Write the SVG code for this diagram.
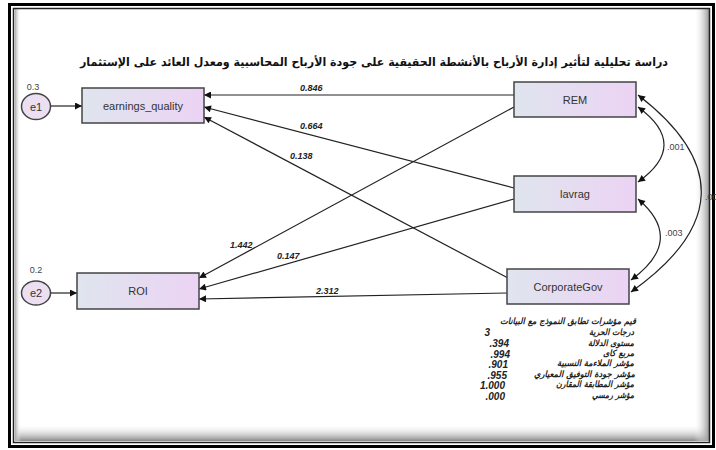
<svg xmlns="http://www.w3.org/2000/svg" width="716" height="450" viewBox="0 0 716 450">
<defs>
<linearGradient id="boxg" x1="0" y1="0" x2="1" y2="0">
<stop offset="0" stop-color="#dfe5ee"/>
<stop offset="1" stop-color="#ecd3f4"/>
</linearGradient>
<linearGradient id="shB" x1="0" y1="0" x2="0" y2="1">
<stop offset="0" stop-color="#fff" stop-opacity="0"/>
<stop offset="1" stop-color="#888"/>
</linearGradient>
<linearGradient id="shR" x1="0" y1="0" x2="1" y2="0">
<stop offset="0" stop-color="#fff" stop-opacity="0"/>
<stop offset="1" stop-color="#999"/>
</linearGradient>
<linearGradient id="shL" x1="1" y1="0" x2="0" y2="0">
<stop offset="0" stop-color="#fff" stop-opacity="0"/>
<stop offset="1" stop-color="#aaa"/>
</linearGradient>
<marker id="arr" viewBox="0 0 10 10" refX="10" refY="5" markerWidth="12" markerHeight="7" markerUnits="userSpaceOnUse" orient="auto-start-reverse">
<path d="M0,0 L10,5 L0,10 z" fill="#111"/>
</marker>
</defs>
<style>
.box{fill:url(#boxg);stroke:#444;stroke-width:1.5}
.err{fill:#ebdff1;stroke:#444;stroke-width:1.5}
.lbl{font-family:"Liberation Sans",Arial,sans-serif;font-size:11px;fill:#333;text-anchor:middle}
.var{font-family:"Liberation Sans",Arial,sans-serif;font-size:9px;fill:#444;text-anchor:middle}
.edge{fill:none;stroke:#222;stroke-width:1.2;marker-end:url(#arr)}
.cov{fill:none;stroke:#222;stroke-width:1.2;marker-end:url(#arr);marker-start:url(#arr)}
.coef{font-family:"Liberation Sans",Arial,sans-serif;font-size:9px;font-style:italic;font-weight:bold;fill:#222}
.covl{font-family:"Liberation Sans",Arial,sans-serif;font-size:9px;fill:#444}
.ar{font-family:"DejaVu Sans",sans-serif;font-size:8.5px;font-weight:bold;font-style:italic;fill:#222;text-anchor:end}
.num{font-family:"Liberation Sans",Arial,sans-serif;font-size:10px;font-weight:bold;font-style:italic;fill:#222;text-anchor:end}
</style>
<rect width="716" height="450" fill="#fff"/>
<g id="frame">
<rect x="15" y="424" width="694" height="17" fill="url(#shB)"/>
<rect x="694" y="9" width="15" height="432" fill="url(#shR)"/>
<rect x="15" y="9" width="6" height="432" fill="url(#shL)"/>
<rect x="9.5" y="4.5" width="704" height="442" fill="none" stroke="#000" stroke-width="3"/>
<rect x="13.5" y="8.5" width="696" height="434" fill="none" stroke="#222" stroke-width="1.5"/>
</g>
<text id="title" x="374" y="66" font-family="DejaVu Sans, sans-serif" font-size="11.5" font-weight="bold" fill="#111" text-anchor="middle" textLength="588" lengthAdjust="spacingAndGlyphs">دراسة تحليلية لتأثير إدارة الأرباح بالأنشطة الحقيقية على جودة الأرباح المحاسبية ومعدل العائد على الإستثمار</text>
<g id="connectors">
<path class="edge" d="M51,106 L82,106"/>
<path class="edge" d="M51,293 L77,293"/>
<path class="edge" d="M514,95 L204,95"/>
<path class="edge" d="M514,188 L204,107"/>
<path class="edge" d="M508,278 L204,117"/>
<path class="edge" d="M514,107 L199,278"/>
<path class="edge" d="M514,199 L199,289"/>
<path class="edge" d="M507,293 L199,299"/>
<path class="cov" d="M638,107 Q690,145 638,182"/>
<path class="cov" d="M638,199 Q686,240 631,280"/>
<path class="cov" d="M638,95 Q768,195 631,292"/>
<text class="coef" x="300" y="91">0.846</text>
<text class="coef" x="300" y="129">0.664</text>
<text class="coef" x="290" y="159">0.138</text>
<text class="coef" x="230" y="248">1.442</text>
<text class="coef" x="277" y="259">0.147</text>
<text class="coef" x="316" y="294">2.312</text>
<text class="covl" x="667" y="150">.001</text>
<text class="covl" x="665" y="236">.003</text>
</g>
<g id="e1"><ellipse class="err" cx="36" cy="106.5" rx="14.5" ry="13"/><text class="lbl" x="36" y="110.5">e1</text><text class="var" x="33" y="90">0.3</text></g>
<g id="e2"><ellipse class="err" cx="36" cy="293" rx="14.5" ry="12"/><text class="lbl" x="36" y="297">e2</text><text class="var" x="36" y="273">0.2</text></g>
<g id="earnings_quality"><rect class="box" x="82" y="88" width="122" height="35"/><text class="lbl" x="143" y="109.5">earnings_quality</text></g>
<g id="ROI"><rect class="box" x="77" y="273" width="122" height="36"/><text class="lbl" x="138" y="295">ROI</text></g>
<g id="REM"><rect class="box" x="514" y="82" width="122" height="35"/><text class="lbl" x="575" y="103.5">REM</text></g>
<g id="lavrag"><rect class="box" x="514" y="176" width="122" height="36"/><text class="lbl" x="575" y="198">lavrag</text></g>
<g id="CorporateGov"><rect class="box" x="507" y="269" width="122" height="35"/><text class="lbl" x="568" y="290.5">CorporateGov</text></g>
<g id="fit">
<text class="ar" x="636" y="324" textLength="136" lengthAdjust="spacingAndGlyphs">قيم مؤشرات تطابق النموذج مع البيانات</text>
<text class="ar" x="634" y="335" textLength="45" lengthAdjust="spacingAndGlyphs">درجات الحرية</text>
<text class="ar" x="634" y="346" textLength="46" lengthAdjust="spacingAndGlyphs">مستوى الدلالة</text>
<text class="ar" x="634" y="356" textLength="31" lengthAdjust="spacingAndGlyphs">مربع كاى</text>
<text class="ar" x="634" y="366" textLength="77" lengthAdjust="spacingAndGlyphs">مؤشر الملاءمة النسبية</text>
<text class="ar" x="635" y="377" textLength="101" lengthAdjust="spacingAndGlyphs">مؤشر جودة التوفيق المعياري</text>
<text class="ar" x="634" y="387" textLength="78" lengthAdjust="spacingAndGlyphs">مؤشر المطابقة المقارن</text>
<text class="ar" x="634" y="398" textLength="42" lengthAdjust="spacingAndGlyphs">مؤشر رمسي</text>
<text class="num" x="490" y="336">3</text>
<text class="num" x="509" y="347">.394</text>
<text class="num" x="510" y="357.5">.994</text>
<text class="num" x="508" y="368">.901</text>
<text class="num" x="507" y="378.5">.955</text>
<text class="num" x="505" y="389">1.000</text>
<text class="num" x="505" y="400">.000</text>
</g>
<text class="covl" x="705" y="200">.00</text>
</svg>
